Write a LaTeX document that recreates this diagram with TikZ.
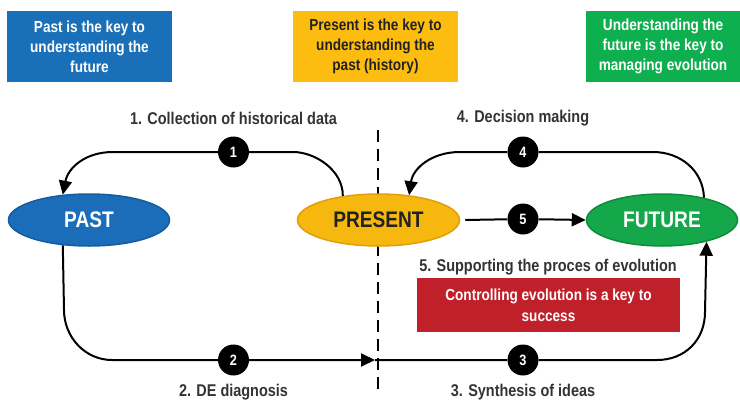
\documentclass[tikz,border=0pt]{standalone}
\usepackage{fontspec}
\setmainfont[FakeStretch=0.85]{Liberation Sans}
\usetikzlibrary{arrows.meta,shapes.geometric}
\definecolor{cblue}{HTML}{1A70B8}
\definecolor{eblue}{HTML}{1B6DBA}
\definecolor{eblueD}{HTML}{155C9E}
\definecolor{cyellow}{HTML}{FDBD10}
\definecolor{eyellow}{HTML}{F6B80F}
\definecolor{eyellowD}{HTML}{E09E0A}
\definecolor{cgreen}{HTML}{0DAF4E}
\definecolor{egreen}{HTML}{14A84A}
\definecolor{egreenD}{HTML}{0E8C3C}
\definecolor{cred}{HTML}{C0202A}
\definecolor{labgray}{HTML}{333333}
\definecolor{darktext}{HTML}{222222}
\tikzset{
  topbox/.style={rectangle, minimum width=165pt, minimum height=71pt, align=center, inner sep=0pt,
    font=\bfseries\fontsize{16}{20}\selectfont},
  ell/.style={ellipse, inner sep=0pt, minimum height=52pt, line width=1.5pt,
    font=\bfseries\fontsize{22.5}{24}\selectfont},
  lab/.style={text=labgray, font=\bfseries\fontsize{17}{20}\selectfont},
  num/.style={circle, fill=black, text=white, minimum size=31pt, inner sep=0pt,
    font=\bfseries\fontsize{15}{15}\selectfont},
  conn/.style={line width=2pt, line join=round},
  tip/.style={-{Triangle[length=14pt,width=13pt]}},
  divider/.style={line width=1.5pt, dash pattern=on 12pt off 7pt}
}
\begin{document}
\begin{tikzpicture}[x=1pt,y=-1pt]
\useasboundingbox (0,0) rectangle (740,402);
% top boxes
\node[topbox, fill=cblue, text=white] (bpast) at (89.5,46.5) {Past is the key to\\understanding the\\future};
\node[topbox, fill=cyellow, text=darktext] (bpres) at (375.5,46.5) {Present is the key to\\understanding the\\past (history)};
\node[topbox, fill=cgreen, text=white, minimum width=154pt] (bfut) at (663,46.5) {Understanding the\\future is the key to\\managing evolution};
% divider
\coordinate (dtop) at (378,130);
\coordinate (dbot) at (378,390);
\draw[divider] (dtop) -- (dbot);
% ellipses
\node[ell, minimum width=161pt, fill=eblue, draw=eblueD, text=white] (past) at (89,220) {PAST};
\node[ell, minimum width=162pt, fill=eyellow, draw=eyellowD, text=darktext] (present) at (378.5,220) {PRESENT};
\node[ell, minimum width=151pt, fill=egreen, draw=egreenD, text=white] (future) at (662,220) {FUTURE};
% number circles
\node[num] (c1) at (233.5,152) {1};
\node[num] (c4) at (523,152) {4};
\node[num] (c5) at (523,219) {5};
\node[num] (c2) at (233.5,360) {2};
\node[num] (c3) at (523,360) {3};
\coordinate (m) at (375,360);
% connectors
\draw[conn, tip] (present.146.6) .. controls (343,170) and (315,152) .. (293,152) -- (c1) -- (113,152)
  .. controls (85,152) and (68,168) .. (past.136.6);
\draw[conn, tip] (future.28.1) .. controls (703,170) and (680,152) .. (653,152) -- (c4) -- (460,152)
  .. controls (432,152) and (413,168) .. (present.39.4);
\draw[conn, tip] ([xshift=5pt]present.east) -- (c5) -- (future.west);
\draw[conn, tip] (past.224.6) -- (64,310) .. controls (64,337) and (85,360) .. (112,360) -- (c2) -- (m);
\draw[conn, tip] (m) -- (c3) -- (657,360) .. controls (685,360) and (705,340) .. (705,312) -- (future.-26.5);
% labels
\node[lab] (l1) at (233.5,118) {1. Collection of historical data};
\node[lab] (l4) at (523,118) {4. Decision making};
\node[lab] (l5) at (548,267) {5. Supporting the proces of evolution};
\node[lab] (l2) at (233.5,392) {2. DE diagnosis};
\node[lab] (l3) at (523,392) {3. Synthesis of ideas};
% red box
\node[rectangle, fill=cred, text=white, minimum width=263pt, minimum height=54pt, align=center, inner sep=0pt,
  font=\bfseries\fontsize{16}{21}\selectfont] (red) at (548.5,305) {Controlling evolution is a key to\\success};
\end{tikzpicture}
\end{document}
